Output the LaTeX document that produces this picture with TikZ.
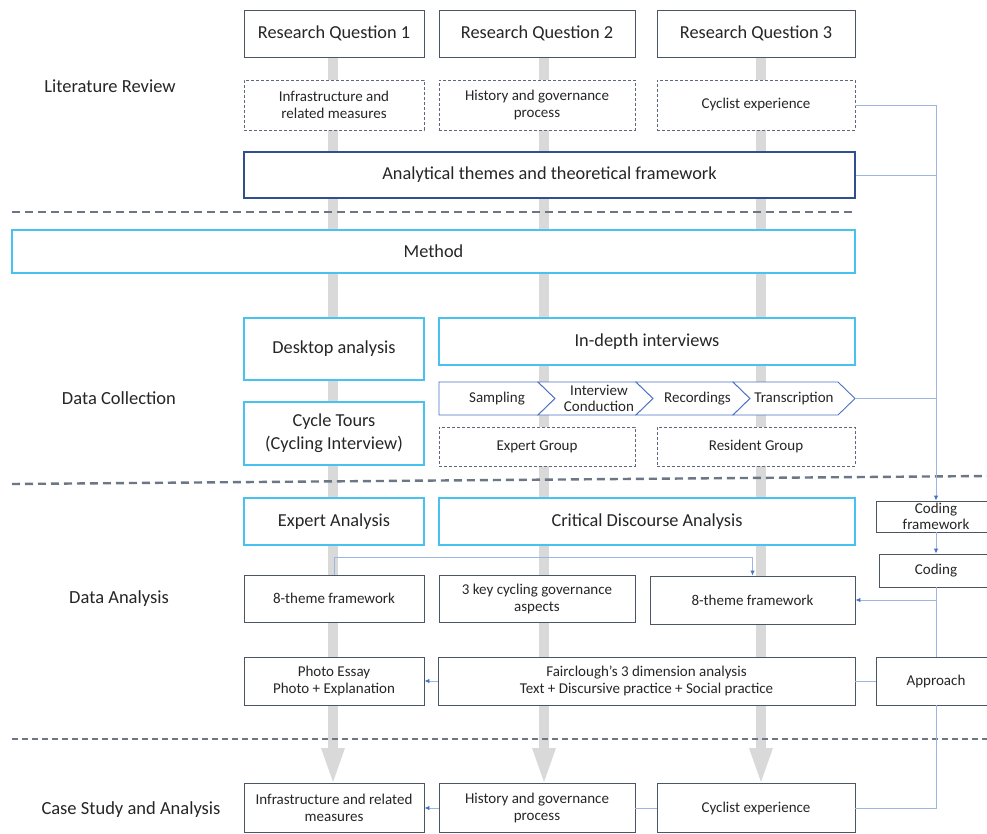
\documentclass[tikz,border=0pt]{standalone}
\usepackage{fontspec}
\setmainfont{Carlito}
\usetikzlibrary{arrows.meta}
\definecolor{boxc}{HTML}{4B5563}
\definecolor{athc}{HTML}{2F4F8F}
\definecolor{cyanc}{HTML}{48C2F0}
\definecolor{dashc}{HTML}{5F6878}
\definecolor{sepc}{HTML}{6B7686}
\definecolor{barc}{HTML}{D9D9D9}
\definecolor{connc}{HTML}{9DB5E0}
\definecolor{tipc}{HTML}{4472C4}
\definecolor{chevc}{HTML}{4A72C4}
\definecolor{textc}{HTML}{262626}
\begin{document}
\begin{tikzpicture}[x=1pt,y=-1pt,
 every node/.style={text=textc, align=center, inner sep=0pt},
 box/.style={draw=boxc, line width=0.9pt, fill=white},
 athbox/.style={draw=athc, line width=1.3pt, fill=white},
 dbox/.style={draw=dashc, line width=0.9pt, dash pattern=on 3pt off 2pt, fill=white},
 cbox/.style={draw=cyanc, line width=1.8pt, fill=white},
 big/.style={font=\fontsize{18.3}{23}\selectfont},
 small/.style={font=\fontsize{15}{17}\selectfont},
 lbl/.style={font=\fontsize{18.5}{21}\selectfont},
 sep/.style={draw=sepc, line width=2.4pt, dash pattern=on 8pt off 5pt},
 sepb/.style={draw=sepc, line width=2.4pt, dash pattern=on 6pt off 4pt},
 bar/.style={draw=barc, line width=10.5pt},
 barhead/.style={fill=barc},
 chev/.style={draw=chevc, line width=0.9pt, fill=white},
 conn/.style={draw=connc, line width=0.9pt},
 arr/.style={conn, -{Latex[length=5pt,width=4.5pt,color=tipc]}},
]
\fill[white] (0,0) rectangle (987,834);
\useasboundingbox (0,0) rectangle (987,834);

% background bars
\coordinate (b1t) at (333,57);  \coordinate (b1b) at (333,748);
\coordinate (b2t) at (544,57);  \coordinate (b2b) at (544,748);
\coordinate (b3t) at (761,57);  \coordinate (b3b) at (761,748);
\draw[bar] (b1t) -- (b1b);
\draw[bar] (b2t) -- (b2b);
\draw[bar] (b3t) -- (b3b);
\fill[barhead] (321,748) -- (345,748) -- (333,782) -- cycle;
\fill[barhead] (532,748) -- (556,748) -- (544,782) -- cycle;
\fill[barhead] (749,748) -- (773,748) -- (761,782) -- cycle;

% separators
\draw[sep] (12,212) -- (855,212);
\draw[sep] (12,484) -- (987,476);
\draw[sepb] (12,739) -- (987,739);

% row labels
\node[lbl] (llit) at (110,86) {Literature Review};
\node[lbl] (ldc) at (119,398) {Data Collection};
\node[lbl] (lda) at (119,599) {Data Analysis};
\node[lbl] (lcs) at (131,810) {Case Study and Analysis};

% research questions
\node[box,big,minimum width=180pt,minimum height=47pt] (rq1) at (334,33.5) {Research Question 1};
\node[box,big,minimum width=196pt,minimum height=47pt] (rq2) at (537,33.5) {Research Question 2};
\node[box,big,minimum width=198pt,minimum height=47pt] (rq3) at (756,33.5) {Research Question 3};

% literature boxes
\node[dbox,small,minimum width=180pt,minimum height=50pt] (lit1) at (334,105) {Infrastructure and\\related measures};
\node[dbox,small,minimum width=196pt,minimum height=50pt] (lit2) at (537,105) {History and governance\\process};
\node[dbox,small,minimum width=198pt,minimum height=50pt] (lit3) at (756,105) {Cyclist experience};

\node[athbox,big,minimum width=611pt,minimum height=46pt] (ath) at (549.5,175) {Analytical themes and theoretical framework};

\node[cbox,big,minimum width=843pt,minimum height=43pt] (method) at (433.5,251.5) {Method};

% data collection
\node[cbox,big,minimum width=180pt,minimum height=62pt] (desk) at (334,349) {Desktop analysis};
\node[cbox,big,minimum width=416pt,minimum height=47pt] (indepth) at (647,341.5) {In-depth interviews};
\node[cbox,big,minimum width=180pt,minimum height=63pt] (cyc) at (334,433.5) {Cycle Tours\\(Cycling Interview)};

% chevrons
\draw[chev] (439,382) -- (538,382) -- (555,398.5) -- (538,415) -- (439,415) -- cycle;
\draw[chev] (538,382) -- (636,382) -- (653,398.5) -- (636,415) -- (538,415) -- (555,398.5) -- cycle;
\draw[chev] (636,382) -- (733,382) -- (750,398.5) -- (733,415) -- (636,415) -- (653,398.5) -- cycle;
\draw[chev] (733,382) -- (838,382) -- (855,398.5) -- (838,415) -- (733,415) -- (750,398.5) -- cycle;
\coordinate (trtip) at (855,398.5);
\node[small] (ch1) at (497,398.5) {Sampling};
\node[small,font=\fontsize{15}{16}\selectfont] (ch2) at (599,398.5) {Interview\\Conduction};
\node[small] (ch3) at (697.5,398.5) {Recordings};
\node[small] (ch4) at (794,398.5) {Transcription};

\node[dbox,small,minimum width=196pt,minimum height=39pt] (expg) at (537,446.5) {Expert Group};
\node[dbox,small,minimum width=198pt,minimum height=39pt] (resg) at (756,446.5) {Resident Group};

% data analysis
\node[cbox,big,minimum width=180pt,minimum height=47pt] (expa) at (334,521.5) {Expert Analysis};
\node[cbox,big,minimum width=416pt,minimum height=47pt] (cda) at (647,521.5) {Critical Discourse Analysis};

\node[box,small,minimum width=120pt,minimum height=31pt,font=\fontsize{15}{16}\selectfont] (codf) at (936,516.5) {Coding\\framework};
\node[box,small,minimum width=114pt,minimum height=33pt] (coding) at (936,570.5) {Coding};
\node[box,small,minimum width=120pt,minimum height=48pt] (appr) at (936,681) {Approach};

\node[box,small,minimum width=180pt,minimum height=47pt] (th1) at (334,598.5) {8-theme framework};
\node[box,small,minimum width=196pt,minimum height=47pt] (key3) at (537,598.5) {3 key cycling governance\\aspects};
\node[box,small,minimum width=205pt,minimum height=48pt] (th3) at (752.5,600) {8-theme framework};

\node[box,small,minimum width=180pt,minimum height=48pt] (photo) at (334,681) {Photo Essay\\Photo + Explanation};
\node[box,small,minimum width=417pt,minimum height=48pt] (fair) at (646.5,681) {Fairclough’s 3 dimension analysis\\Text + Discursive practice + Social practice};

% case study
\node[box,small,minimum width=180pt,minimum height=49pt] (cs1) at (334,808) {Infrastructure and related\\measures};
\node[box,small,minimum width=196pt,minimum height=49pt] (cs2) at (537,808) {History and governance\\process};
\node[box,small,minimum width=198pt,minimum height=49pt] (cs3) at (756,808) {Cyclist experience};

% connectors
\draw[arr] (lit3.east) -| (codf.north);
\draw[conn] (ath.east) -- (ath.east -| codf.north);
\draw[conn] (trtip) -- (trtip -| codf.north);
\draw[arr] (codf.south) -- (coding.north);
\draw[arr] (coding.south) |- (th3.east);
\draw[conn] (coding.south) -- (appr.north);
\draw[conn] (appr.west) -- (fair.east);
\draw[conn] (appr.south) |- (cs3.east);
\draw[arr] (th1.north) -- ++(0,-17) -| (th3.north);
\draw[arr] (fair.west) -- (photo.east);
\draw[conn] (cs3.west) -- (cs2.east);
\draw[arr] (cs2.west) -- (cs1.east);
\end{tikzpicture}
\end{document}
